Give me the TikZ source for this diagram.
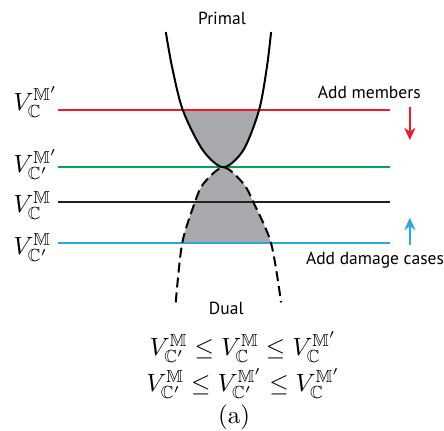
\documentclass[tikz,border=0pt]{standalone}
\usepackage{amsfonts}
\usepackage{amssymb}
\usepackage{amsmath}
\usepackage{fontspec}
\newfontfamily\etiq{PT Sans}
\usepackage{tikz}
\usetikzlibrary{arrows.meta}

\definecolor{rouge}{RGB}{237,28,36}
\definecolor{vert}{RGB}{0,166,81}
\definecolor{bleu}{RGB}{39,170,225}
\definecolor{noir}{RGB}{35,31,32}
\definecolor{grisfond}{RGB}{167,169,172}

\tikzset{
  niveau/.style={line width=0.7pt},
  courbe/.style={line width=0.8pt, black},
  texte/.style={font={\etiq\fontsize{7}{8}\selectfont}},
  fleche/.style={line width=0.7pt, -{Stealth[length=5pt,width=4.5pt]}}
}

\begin{document}
\begin{tikzpicture}
\useasboundingbox (0,0) rectangle (6.24,6.05);

% Zone grise - primal
\begin{scope}
\clip plot[smooth] coordinates {(2.33,5.60) (2.42,5.10) (2.57,4.50) (2.85,3.94) (3.14,3.70) (3.42,3.94) (3.64,4.50) (3.75,5.10) (3.81,5.60)} -- cycle;
\fill[grisfond] (2,3.70) rectangle (4.2,4.50);
\end{scope}

% Zone grise - dual
\begin{scope}
\clip plot[smooth] coordinates {(2.47,1.80) (2.56,2.63) (2.74,3.21) (2.86,3.47) (3.14,3.70) (3.42,3.47) (3.56,3.21) (3.81,2.63) (3.95,1.80)} -- cycle;
\fill[grisfond] (2,2.63) rectangle (4.2,3.70);
\end{scope}

% Lignes horizontales
\coordinate (rougeG) at (0.82,4.50);
\coordinate (rougeD) at (5.48,4.50);
\coordinate (vertG) at (0.82,3.70);
\coordinate (vertD) at (5.48,3.70);
\coordinate (noirG) at (0.82,3.21);
\coordinate (noirD) at (5.48,3.21);
\coordinate (bleuG) at (0.82,2.63);
\coordinate (bleuD) at (5.48,2.63);
\draw[niveau, rouge] (rougeG) -- (rougeD);
\draw[niveau, vert] (vertG) -- (vertD);
\draw[niveau, noir] (noirG) -- (noirD);
\draw[niveau, bleu] (bleuG) -- (bleuD);

% Courbe primale (trait plein)
\draw[courbe] plot[smooth] coordinates {(2.33,5.60) (2.42,5.10) (2.57,4.50) (2.85,3.94) (3.14,3.70) (3.42,3.94) (3.64,4.50) (3.75,5.10) (3.81,5.60)};

% Courbe duale (tirets)
\draw[courbe, dash pattern=on 4pt off 2pt] plot[smooth] coordinates {(2.47,1.80) (2.56,2.63) (2.74,3.21) (2.86,3.47) (3.14,3.70) (3.42,3.47) (3.56,3.21) (3.81,2.63) (3.95,1.80)};

% Etiquettes des niveaux
\node[anchor=west, inner sep=0] (Vrouge) at (0.18,4.62) {$V_{\mathbb{C}}^{\mathbb{M}'}$};
\node[anchor=west, inner sep=0] (Vvert) at (0.18,3.74) {$V_{\mathbb{C}'}^{\mathbb{M}'}$};
\node[anchor=west, inner sep=0] (Vnoir) at (0.18,3.16) {$V_{\mathbb{C}}^{\mathbb{M}}$};
\node[anchor=west, inner sep=0] (Vbleu) at (0.18,2.57) {$V_{\mathbb{C}'}^{\mathbb{M}}$};

% Titres
\node[texte] (primal) at (3.12,5.79) {Primal};
\node[texte] (dual) at (3.18,1.72) {Dual};

% Fleches a droite
\coordinate (rougeH) at (5.76,4.55);
\coordinate (rougeB) at (5.76,4.08);
\draw[fleche, rouge] (rougeH) -- (rougeB);
\node[texte] (membres) at (5.19,4.75) {Add members};

\coordinate (bleuB) at (5.76,2.60);
\coordinate (bleuH) at (5.76,2.99);
\draw[fleche, bleu] (bleuB) -- (bleuH);
\node[texte] (cas) at (5.27,2.39) {Add damage cases};

% Inegalites en bas
\node (ineg1) at (3.42,1.17) {$V_{\mathbb{C}'}^{\mathbb{M}} \leq V_{\mathbb{C}}^{\mathbb{M}} \leq V_{\mathbb{C}}^{\mathbb{M}'}$};
\node (ineg2) at (3.42,0.66) {$V_{\mathbb{C}'}^{\mathbb{M}} \leq V_{\mathbb{C}'}^{\mathbb{M}'} \leq V_{\mathbb{C}}^{\mathbb{M}'}$};
\node (legende) at (3.29,0.19) {(a)};

\end{tikzpicture}
\end{document}
